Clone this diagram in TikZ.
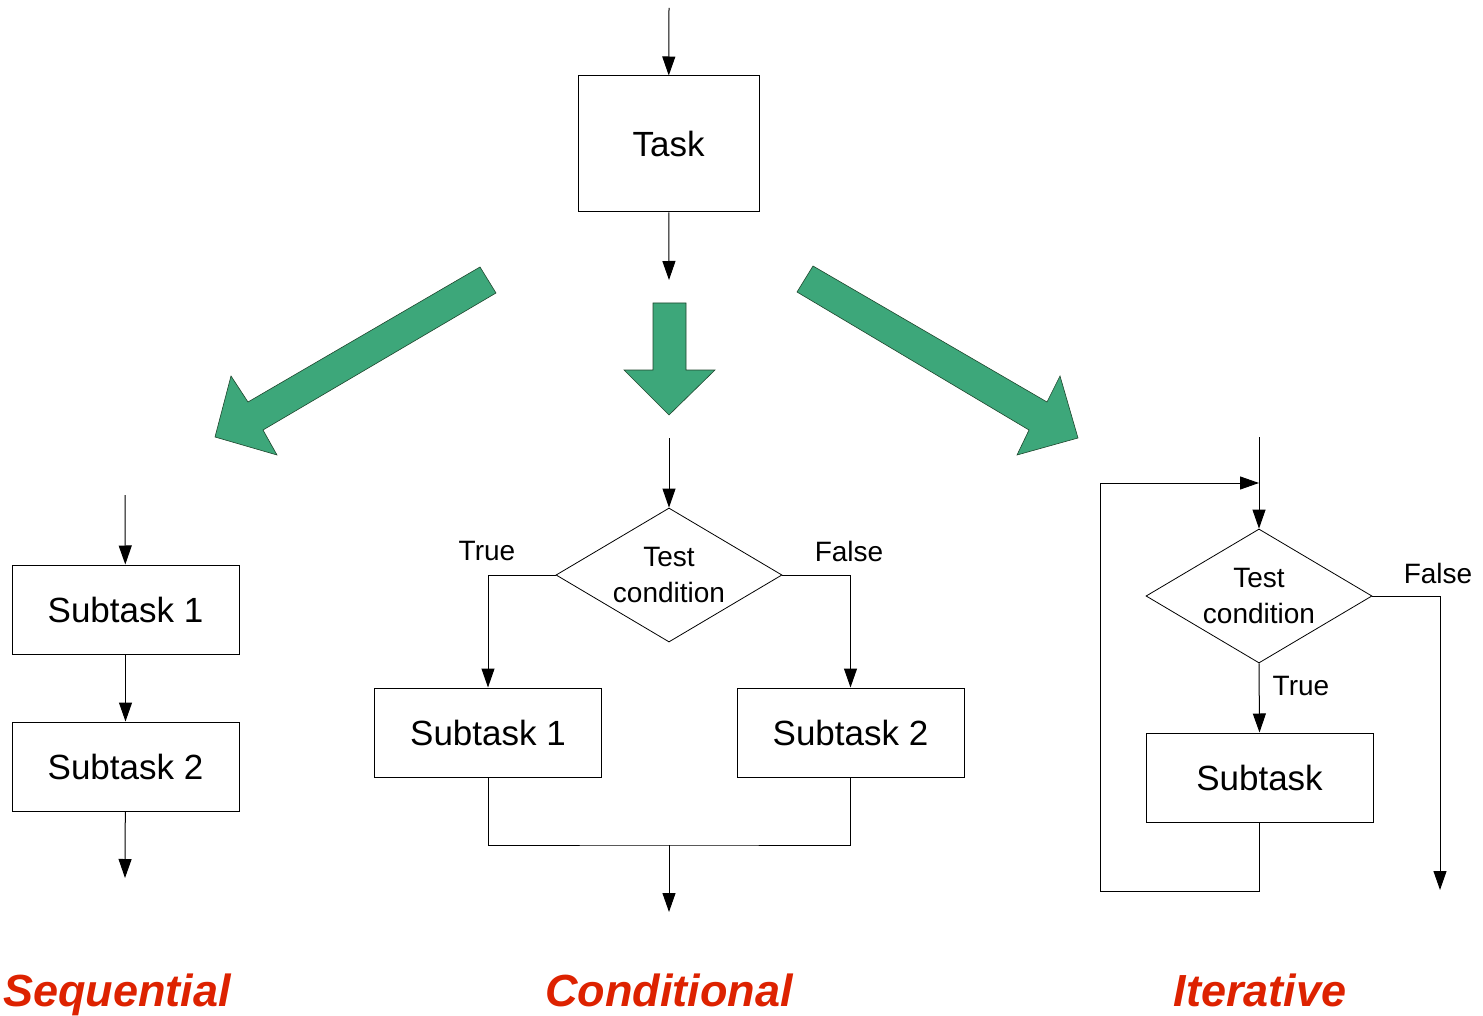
\documentclass[tikz,border=0pt]{standalone}
\usepackage{fontspec}
\setmainfont{Liberation Sans}
\usetikzlibrary{shapes.geometric,arrows.meta}
\definecolor{grn}{RGB}{61,167,122}
\definecolor{grnline}{RGB}{30,70,45}
\definecolor{ttl}{RGB}{221,34,0}
\newcommand{\boxfont}{\fontsize{35}{42}\selectfont}
\newcommand{\lblfont}{\fontsize{28}{36}\selectfont}
\newcommand{\ttlfont}{\fontsize{45}{54}\selectfont\bfseries\itshape}
\tikzset{
  arr/.style={-{Triangle[length=19pt,width=13pt]}, line width=1pt},
  ln/.style={line width=1pt},
  taskbox/.style={draw, line width=1pt, rectangle, inner sep=0pt, font=\boxfont},
  subbox/.style={taskbox, minimum width=227pt, minimum height=89pt},
  cond/.style={draw, line width=0.8pt, diamond, inner sep=0pt, aspect=1.687,
    minimum width=226pt, minimum height=134pt},
  lbl/.style={font=\lblfont, inner sep=0pt},
  ttl/.style={font=\ttlfont, text=ttl, inner sep=0pt, anchor=base},
  bigarrow/.style={fill=grn, draw=grnline, line width=0.6pt, line join=miter}
}
\begin{document}
\begin{tikzpicture}[x=1pt,y=-1pt]
\useasboundingbox (0,0) rectangle (1483,1016);

% Task
\node[taskbox, minimum width=181pt, minimum height=136pt] (task) at (668.5,144) {Task};
\coordinate (t0) at (669,8);
\coordinate (t1) at (669,280);
\draw[arr] (t0) -- (task);
\draw[arr] (task) -- (t1);

% green arrows
\draw[bigarrow] (480,267) -- (496,293) -- (263,430) -- (277,455) -- (215,437) -- (231,376) -- (248,402) -- cycle;
\draw[bigarrow] (653,303) -- (686,303) -- (686,370) -- (715,370) -- (669,415) -- (624,370) -- (653,370) -- cycle;
\draw[bigarrow] (813,266) -- (1047,402) -- (1060,376) -- (1078,438) -- (1017,455) -- (1029,430) -- (797,292) -- cycle;

% Sequential
\node[subbox] (s1) at (125.5,609.5) {Subtask 1};
\node[subbox] (s2) at (125.5,766.5) {Subtask 2};
\coordinate (s0) at (125,495);
\coordinate (s3) at (125,878);
\draw[arr] (s0) -- (s1);
\draw[arr] (s1) -- (s2);
\draw[arr] (s2) -- (s3);

% Conditional
\node[cond, label={[lbl, align=center]center:Test\\condition}] (cd) at (669,575) {};
\node[subbox] (cb1) at (488,732.5) {Subtask 1};
\node[subbox] (cb2) at (850.5,732.5) {Subtask 2};
\coordinate (c0) at (669,438);
\coordinate (cj) at (669,845);
\coordinate (c1) at (669,912);
\draw[arr] (c0) -- (cd.north);
\draw[arr] (cd.west) -| (cb1.north);
\draw[arr] (cd.east) -| (cb2.north);
\draw[ln] (cb1.south) |- (cj) -| (cb2.south);
\draw[arr] (cj) -- (c1);
\node[lbl] (ctrue) at (487,551) {True};
\node[lbl] (cfalse) at (849,551) {False};

% Iterative
\node[cond, label={[lbl, align=center]center:Test\\condition}] (id) at (1259,596) {};
\node[subbox] (ib) at (1259.5,777.5) {Subtask};
\coordinate (i0) at (1259,437);
\coordinate (ij) at (1259,483);
\coordinate (il) at (1100,891);
\coordinate (i1) at (1440,890);
\draw[arr] (i0) -- (id.north);
\draw[arr] (id.south) -- (ib.north);
\draw[arr] (ib.south) |- (il) |- (ij);
\draw[arr] (id.east) -| (i1);
\node[lbl] (ifalse) at (1438,573) {False};
\node[lbl] (itrue) at (1301,686) {True};

% Titles
\node[ttl] (tseq) at (117,1006) {Sequential};
\node[ttl] (tcond) at (669,1006) {Conditional};
\node[ttl] (titer) at (1260,1006) {Iterative};
\end{tikzpicture}
\end{document}
